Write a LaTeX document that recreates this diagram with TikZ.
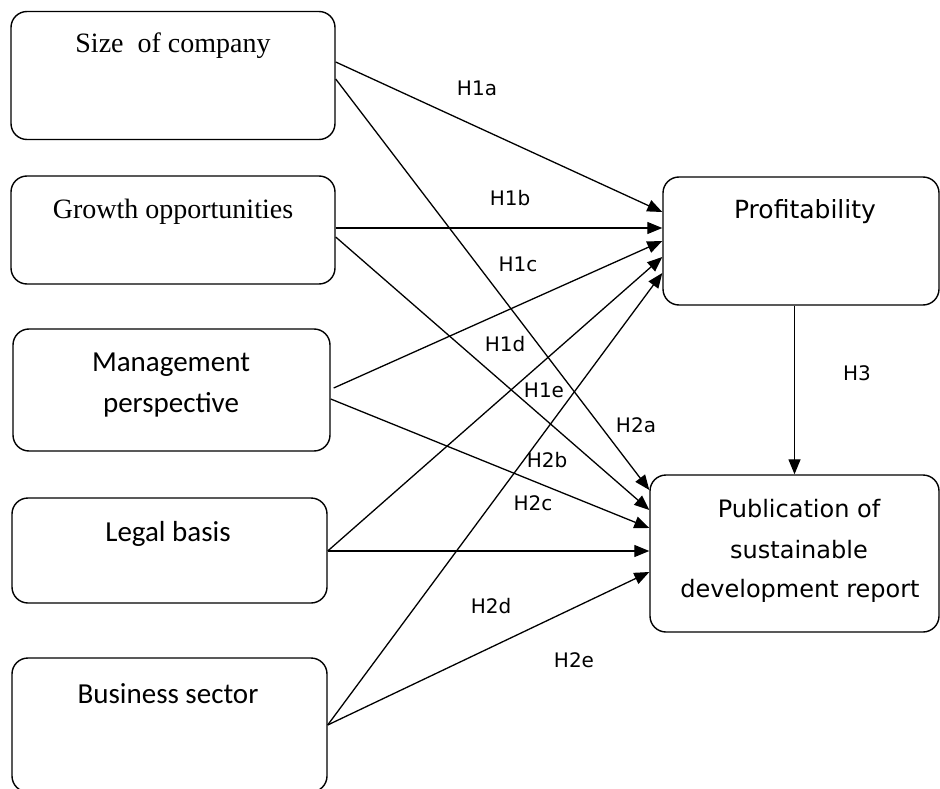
\documentclass[tikz,border=0pt]{standalone}
\usepackage{fontspec}
\setmainfont{Liberation Serif}
\newfontfamily\calib{Carlito}
\newfontfamily\verd{DejaVu Sans}
\usetikzlibrary{arrows.meta,calc}
\tikzset{
  box/.style={draw, rounded corners=16pt, line width=1.4pt, inner sep=0pt},
  arr/.style={line width=1.3pt, -{Triangle[length=15pt,width=12pt]}},
  hyp/.style={font=\verd\fontsize{20}{24}\selectfont, inner sep=1pt}
}
\begin{document}
\begin{tikzpicture}[x=1pt,y=-1pt]
		\useasboundingbox (0,0) rectangle (940,789);
		% left column
		\node[box, minimum width=324pt, minimum height=128pt] (size) at (173,75.5) {};
		\node[box, minimum width=324pt, minimum height=108pt] (growth) at (173,230) {};
		\node[box, minimum width=317pt, minimum height=122pt] (mgmt) at (171.5,390) {};
		\node[box, minimum width=315pt, minimum height=105pt] (legal) at (169.5,550.5) {};
		\node[box, minimum width=315pt, minimum height=134pt] (business) at (169.5,725) {};
		% right column
		\node[box, minimum width=276pt, minimum height=128pt] (prof) at (801,241) {};
		\node[box, minimum width=289pt, minimum height=157pt] (pub) at (794.5,553.5) {};
		% texts
		\node[anchor=base, font=\fontsize{28}{32}\selectfont] (sizetxt) at (173,53) {Size\ \ of company};
		\node[anchor=base, font=\fontsize{28}{32}\selectfont] (growthtxt) at (173,218) {Growth opportunities};
		\node[anchor=base, font=\calib\fontsize{29}{41}\selectfont] (mgmttxt1) at (171,371) {Management};
		\node[anchor=base, font=\calib\fontsize{29}{41}\selectfont] (mgmttxt2) at (171,412) {perspective};
		\node[anchor=base, font=\calib\fontsize{29}{41}\selectfont] (legaltxt) at (168,541) {Legal basis};
		\node[anchor=base, font=\calib\fontsize{29}{41}\selectfont] (businesstxt) at (168,703) {Business sector};
		\node[anchor=base, font=\verd\fontsize{25}{30}\selectfont] (proftxt) at (805,218) {Profitability};
		\node[anchor=base, font=\verd\fontsize{24}{30}\selectfont] (pubtxt1) at (799,517) {Publication of};
		\node[anchor=base, font=\verd\fontsize{24}{30}\selectfont] (pubtxt2) at (799,558) {sustainable};
		\node[anchor=base, font=\verd\fontsize{24}{30}\selectfont] (pubtxt3) at (800,597) {development report};
		% hypotheses to profitability
		\draw[arr] (size.east |- 0,62) -- (prof.west |- 0,212);
		\draw[arr] (growth.east |- 0,228) -- (prof.west |- 0,228);
		\draw[arr] ($(mgmt.east |- 0,388)+(3,0)$) -- (prof.west |- 0,241);
		\draw[arr] (legal.east |- 0,551) -- (prof.west |- 0,257);
		\draw[arr] (business.east |- 0,725) -- (prof.west |- 0,273);
		% hypotheses to publication
		\draw[arr] (size.east |- 0,79) -- (pub.west |- 0,490);
		\draw[arr] (growth.east |- 0,237) -- (pub.west |- 0,510);
		\draw[arr] (mgmt.east |- 0,399) -- (pub.west |- 0,528);
		\draw[arr] (legal.east |- 0,551) -- (pub.west |- 0,551);
		\draw[arr] (business.east |- 0,725) -- (pub.west |- 0,572);
		\draw[arr] (prof.south -| pub.north) -- (pub.north);
		% labels
		\node[hyp] (h1a) at (477,88) {H1a};
		\node[hyp] (h1b) at (510,198) {H1b};
		\node[hyp] (h1c) at (518,264) {H1c};
		\node[hyp] (h1d) at (505,344) {H1d};
		\node[hyp] (h1e) at (544,390) {H1e};
		\node[hyp] (h2a) at (636,425) {H2a};
		\node[hyp] (h2b) at (547,460) {H2b};
		\node[hyp] (h2c) at (533,503) {H2c};
		\node[hyp] (h2d) at (491,606) {H2d};
		\node[hyp] (h2e) at (574,660) {H2e};
		\node[hyp] (h3) at (857,373) {H3};
	\end{tikzpicture}
\end{document}
